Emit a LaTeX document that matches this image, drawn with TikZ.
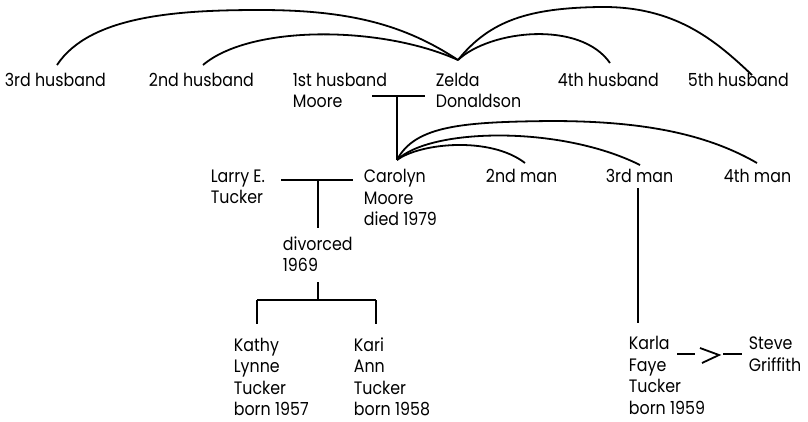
\documentclass[tikz,border=0pt]{standalone}
\usepackage{fontspec}
\setmainfont[FakeStretch=0.88]{Poppins}
\begin{document}
\begin{tikzpicture}[x=1pt,y=-1pt,line width=1.8pt,
  lbl/.style={anchor=base west,inner sep=0pt,align=left,
              font=\fontsize{18}{21.5}\selectfont}]
\useasboundingbox (0,0) rectangle (808,421);

% Nodes are placed by the baseline of their last line (21.5pt leading).
% --- generation 1: Zelda and her husbands
\node[lbl] (h3) at (4,86) {3rd husband};
\node[lbl] (h2) at (148,86) {2nd husband};
\node[lbl] (h1) at (292,107.5) {1st husband\\Moore};
\node[lbl] (zelda) at (435,107.5) {Zelda\\Donaldson};
\node[lbl] (h4) at (557,86) {4th husband};
\node[lbl] (h5) at (687,86) {5th husband};

% --- generation 2
\node[lbl] (larry) at (210,203.5) {Larry E.\\Tucker};
\node[lbl] (carolyn) at (363,225.5) {Carolyn\\Moore\\died 1979};
\node[lbl] (m2) at (485,182) {2nd man};
\node[lbl] (m3) at (605,182) {3rd man};
\node[lbl] (m4) at (723,182) {4th man};
\node[lbl] (div) at (282,271.5) {divorced\\1969};

% --- generation 3
\node[lbl] (kathy) at (233,415.5) {Kathy\\Lynne\\Tucker\\born 1957};
\node[lbl] (kari) at (353,415.5) {Kari\\Ann\\Tucker\\born 1958};
\node[lbl] (karla) at (628,414) {Karla\\Faye\\Tucker\\born 1959};
\node[lbl] (steve) at (748,371) {Steve\\Griffith};

% --- junction points and connector ends
\coordinate (zj) at (458,60);
\coordinate (h3e) at (57,65);
\coordinate (h2e) at (203,65);
\coordinate (h4e) at (610,63);
\coordinate (h5e) at (752,75);
\coordinate (mA) at (372,96);
\coordinate (mB) at (425,96);
\coordinate (mC) at (397,96);
\coordinate (cj) at (397,160);
\coordinate (m2e) at (525,163);
\coordinate (m3e) at (640,165);
\coordinate (m4e) at (757,163);
\coordinate (lA) at (281,180);
\coordinate (lB) at (353,180);
\coordinate (lC) at (318,180);
\coordinate (lD) at (318,228);
\coordinate (dA) at (318,282);
\coordinate (dB) at (318,300);
\coordinate (kL) at (257,300);
\coordinate (kR) at (376,300);
\coordinate (kLe) at (257,324);
\coordinate (kRe) at (376,324);
\coordinate (t3) at (638,188);
\coordinate (t3e) at (638,323);
\coordinate (sA) at (677,354);
\coordinate (sB) at (695,354);
\coordinate (sC) at (723,354);
\coordinate (sD) at (742,354);

% --- Zelda's marriages
\draw (h3e) .. controls (90,15) and (180,10) .. (260,10)
            .. controls (350,10) and (405,25) .. (zj);
\draw (h2e) .. controls (250,25) and (380,25) .. (zj);
\draw (zj) .. controls (490,30) and (580,20) .. (h4e);
\draw (zj) .. controls (490,20) and (530,8) .. (600,7)
           .. controls (675,6) and (715,40) .. (h5e);
\draw (mA) -- (mB);
\draw (mC) -- (cj);

% --- Carolyn's partners
\draw (cj) .. controls (420,143) and (490,136) .. (m2e);
\draw (cj) .. controls (430,128) and (560,125) .. (m3e);
\draw (cj) .. controls (415,125) and (465,122) .. (550,121)
           .. controls (630,121) and (700,130) .. (m4e);

% --- Larry and Carolyn, and their daughters
\draw (lA) -- (lB);
\draw (lC) -- (lD);
\draw (dA) -- (dB);
\draw (kL) -- (kR);
\draw (kL) -- (kLe);
\draw (kR) -- (kRe);

% --- Karla and Steve
\draw (t3) -- (t3e);
\draw (sA) -- (sB);
\draw[line join=miter] (700,348) -- (719,355) -- (702,363);
\draw (sC) -- (sD);
\end{tikzpicture}
\end{document}
